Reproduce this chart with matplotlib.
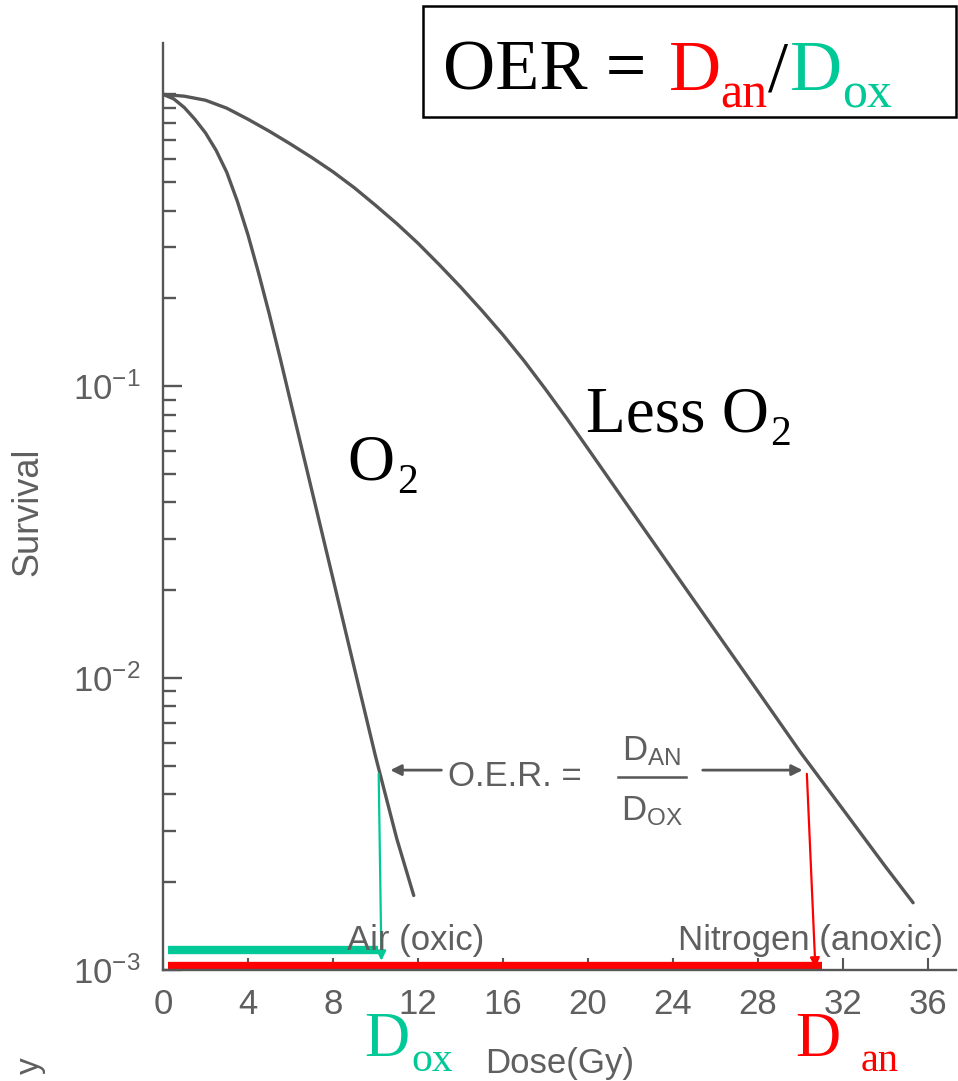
import matplotlib
matplotlib.use('Agg')
import matplotlib.pyplot as plt
from matplotlib.ticker import FixedLocator, LogFormatterSciNotation, NullFormatter
from matplotlib.patches import Rectangle
from matplotlib.lines import Line2D

plt.rcParams['font.family'] = ['Liberation Sans', 'DejaVu Sans']
plt.rcParams['mathtext.fontset'] = 'custom'
plt.rcParams['mathtext.rm'] = 'Liberation Sans'
plt.rcParams['mathtext.it'] = 'Liberation Sans:italic'
plt.rcParams['mathtext.bf'] = 'Liberation Sans:bold'

W, H = 958, 1081

# ---- data ----
dose_oxic = [0, 0.5, 1, 1.5, 2, 2.5, 3, 3.5, 4, 4.5, 5, 5.5, 6, 7, 8, 9, 10, 11, 11.8]
surv_oxic = [1.0, 0.966, 0.902, 0.822, 0.738, 0.643, 0.541, 0.430, 0.330, 0.244, 0.177,
             0.126, 0.0887, 0.0441, 0.0219, 0.01086, 0.0054, 0.00282, 0.0018]

dose_anoxic = [0, 1, 2, 3, 4, 5, 6, 7, 8, 9, 10, 11, 12, 13, 14, 15, 16, 17, 18, 19, 20,
               22, 24, 26, 28, 30, 32, 34, 35.3]
surv_anoxic = [1.0, 0.986, 0.955, 0.897, 0.822, 0.748, 0.676, 0.608, 0.543, 0.479, 0.417,
               0.361, 0.309, 0.261, 0.219, 0.182, 0.150, 0.122, 0.0977, 0.0776, 0.0611,
               0.0378, 0.0234, 0.0145, 0.0090, 0.00557, 0.00355, 0.00226, 0.0017]

x_ticks = [0, 4, 8, 12, 16, 20, 24, 28, 32, 36]
y_major = [1e-3, 1e-2, 1e-1]

oer_level = 0.0047          # survival level where the O.E.R. is read
d_ox = 10.2                 # dose at that level, oxic
d_an = 30.3                 # dose at that level, anoxic
green_bar = [0.25, 10.1]    # D_ox span
red_bar = [0.25, 31.0]      # D_an span
green_bar_level = 0.00117
red_bar_level = 0.00103

GRAY = '#565656'
TGRAY = '#5f5f5f'
GREEN = '#00C896'
RED = '#FF0000'

fig = plt.figure(figsize=(W / 100, H / 100), dpi=100)
ax = fig.add_axes([163 / W, 1 - 970 / H, (955.6 - 163) / W, (970 - 43) / H])
ax.set_yscale('log')
ax.set_xlim(0, 37.3)
ax.set_ylim(1e-3, 1.5)

ax.plot(dose_oxic, surv_oxic, color=GRAY, lw=2.4, solid_capstyle='round', solid_joinstyle='round')
ax.plot(dose_anoxic, surv_anoxic, color=GRAY, lw=2.4, solid_capstyle='round', solid_joinstyle='round')

for s in ['top', 'right']:
    ax.spines[s].set_visible(False)
for s in ['left', 'bottom']:
    ax.spines[s].set_color(GRAY)
    ax.spines[s].set_linewidth(1.7)

ax.set_xticks(x_ticks)
ax.yaxis.set_major_locator(FixedLocator(y_major))
minor = [m * 10.0 ** e for e in (-3, -2, -1) for m in range(2, 10)] + [1.0]
ax.yaxis.set_minor_locator(FixedLocator(minor))
ax.yaxis.set_minor_formatter(NullFormatter())
ax.yaxis.set_major_formatter(LogFormatterSciNotation())
ax.tick_params(axis='both', which='both', direction='in', colors=GRAY,
               labelcolor=TGRAY, labelsize=25)
ax.tick_params(axis='y', which='major', length=14, width=1.7, pad=16)
ax.tick_params(axis='y', which='minor', length=9, width=1.7)
ax.tick_params(axis='x', which='major', length=9, width=1.5, pad=13)

# D_ox / D_an bars and vertical arrows
ax.plot(green_bar, [green_bar_level] * 2, color=GREEN, lw=6, solid_capstyle='butt', clip_on=False)
ax.plot(red_bar, [red_bar_level] * 2, color=RED, lw=6, solid_capstyle='butt', clip_on=False)
ax.annotate('', xy=(d_ox + 0.08, green_bar_level * 0.92), xytext=(d_ox - 0.05, oer_level),
            arrowprops=dict(arrowstyle='-|>', color=GREEN, lw=1.6, mutation_scale=14,
                            shrinkA=0, shrinkB=0))
ax.annotate('', xy=(d_an + 0.4, red_bar_level * 0.99), xytext=(d_an, oer_level),
            arrowprops=dict(arrowstyle='-|>', color=RED, lw=1.6, mutation_scale=14,
                            shrinkA=0, shrinkB=0))

# gray O.E.R. arrows
ax.annotate('', xy=(10.7, 0.00484), xytext=(13.1, 0.00484),
            arrowprops=dict(arrowstyle='-|>', color=GRAY, lw=2.0, mutation_scale=16,
                            shrinkA=0, shrinkB=0))
ax.annotate('', xy=(30.1, 0.00484), xytext=(25.4, 0.00484),
            arrowprops=dict(arrowstyle='-|>', color=GRAY, lw=2.0, mutation_scale=16,
                            shrinkA=0, shrinkB=0))


def fp(x, y):
    return x / W, 1 - y / H


renderer = fig.canvas.get_renderer()


def chain(x, y, parts, family):
    cur = x
    for s, color, size, dy, gap in parts:
        cur += gap
        t = fig.text(*fp(cur, y + dy), s, color=color, fontsize=size, family=family,
                     ha='left', va='baseline')
        bb = t.get_window_extent(renderer=renderer)
        cur = bb.x1
    return cur


# O.E.R. fraction (gray, sans)
fig.text(*fp(448, 777), 'O.E.R. =', color=TGRAY, fontsize=25, ha='left', va='center')
fig.text(*fp(652, 760), r'$\mathregular{D_{AN}}$', color=TGRAY, fontsize=25, ha='center', va='baseline')
fig.text(*fp(652, 820), r'$\mathregular{D_{OX}}$', color=TGRAY, fontsize=25, ha='center', va='baseline')
fig.add_artist(Line2D([618 / W, 686 / W], [1 - 777 / H, 1 - 777 / H], color=GRAY, lw=1.8))

fig.text(*fp(416, 950), 'Air (oxic)', color=TGRAY, fontsize=25, ha='center', va='baseline')
fig.text(*fp(811, 950), 'Nitrogen (anoxic)', color=TGRAY, fontsize=25, ha='center', va='baseline')
fig.text(*fp(560, 1073), 'Dose(Gy)', color=TGRAY, fontsize=25, ha='center', va='baseline')
fig.text(*fp(28, 512), 'Survival', color=TGRAY, fontsize=26, rotation=90, ha='center', va='center')
fig.text(*fp(30, 1066), 'y', color=TGRAY, fontsize=24, rotation=90, ha='center', va='center')

SERIF = ['Liberation Serif', 'DejaVu Serif']
# curve labels
chain(347, 480, [('O', 'black', 47, 0, 0), ('2', 'black', 30, 13, 3)], SERIF)
chain(586, 432, [('Less O', 'black', 47, 0, 0), ('2', 'black', 30, 13, 1)], SERIF)

# D_ox and D_an under the axis
chain(364, 1056, [('D', GREEN, 45, 0, 0), ('ox', GREEN, 30, 15, 2)], SERIF)
chain(795, 1056, [('D', RED, 45, 0, 0), ('an', RED, 29, 15, 20)], SERIF)

# OER box
fig.add_artist(Rectangle((423 / W, 1 - 117 / H), 533 / W, 111 / H, transform=fig.transFigure,
                         fill=False, edgecolor='black', lw=1.8))
chain(443, 90, [('OER = ', 'black', 52, 0, 0), ('D', RED, 52, 0, 4), ('an', RED, 36, 17, 0),
                ('/', 'black', 52, 0, 0), ('D', GREEN, 52, 0, 2), ('ox', GREEN, 36, 17, 0)], SERIF)

fig.savefig('out.png', dpi=100)
